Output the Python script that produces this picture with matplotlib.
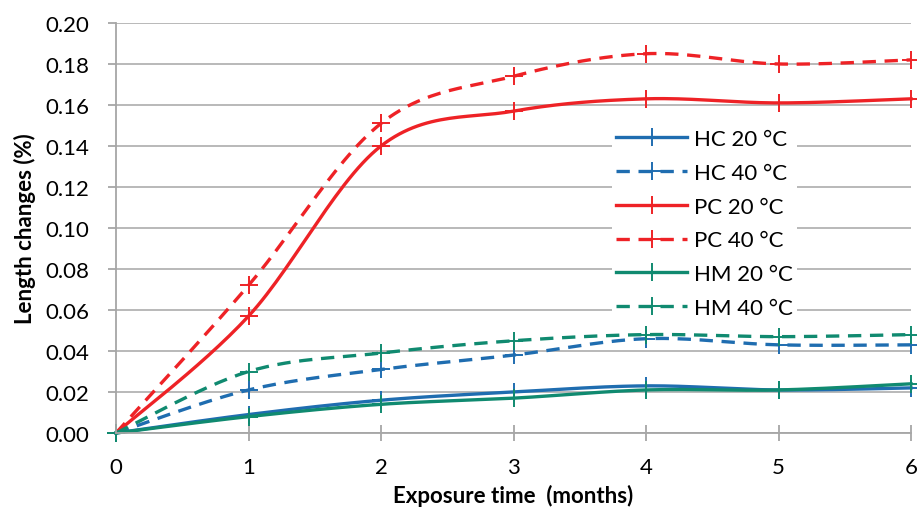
import numpy as np
import matplotlib
matplotlib.use("Agg")
import matplotlib.pyplot as plt

plt.rcParams['font.family'] = ['Lato', 'DejaVu Sans']

months = [0, 1, 2, 3, 4, 5, 6]
hc_20 = [0.000, 0.009, 0.016, 0.020, 0.023, 0.021, 0.022]
hc_40 = [0.000, 0.021, 0.031, 0.038, 0.046, 0.043, 0.043]
pc_20 = [0.000, 0.057, 0.140, 0.157, 0.163, 0.161, 0.163]
pc_40 = [0.000, 0.072, 0.151, 0.174, 0.185, 0.180, 0.182]
hm_20 = [0.000, 0.008, 0.014, 0.017, 0.021, 0.021, 0.024]
hm_40 = [0.000, 0.030, 0.039, 0.045, 0.048, 0.047, 0.048]

BLUE = '#1f6db0'
RED = '#ee2226'
GREEN = '#108a70'


def smooth(x, y, n=30):
    # excel-like smoothed line (catmull-rom through the points)
    x = np.asarray(x, float)
    y = np.asarray(y, float)
    px = np.concatenate([[x[0]], x, [x[-1]]])
    py = np.concatenate([[y[0]], y, [y[-1]]])
    xs, ys = [], []
    t = np.linspace(0, 1, n)
    for i in range(1, len(px) - 2):
        p0, p1, p2, p3 = [np.array([px[j], py[j]]) for j in range(i - 1, i + 3)]
        c1 = p1 + (p2 - p0) / 6.0
        c2 = p2 - (p3 - p1) / 6.0
        pts = ((1 - t) ** 3)[:, None] * p1 + (3 * (1 - t) ** 2 * t)[:, None] * c1 \
            + (3 * (1 - t) * t ** 2)[:, None] * c2 + (t ** 3)[:, None] * p2
        xs.extend(pts[:, 0])
        ys.extend(pts[:, 1])
    return xs, ys


fig = plt.figure(figsize=(9.17, 5.10), dpi=100)
ax = fig.add_axes([0.1265, 0.149, 0.867, 0.804])

series = [
    ('HC 20 °C', hc_20, BLUE, '-'),
    ('HC 40 °C', hc_40, BLUE, '--'),
    ('PC 20 °C', pc_20, RED, '-'),
    ('PC 40 °C', pc_40, RED, '--'),
    ('HM 20 °C', hm_20, GREEN, '-'),
    ('HM 40 °C', hm_40, GREEN, '--'),
]

for label, vals, col, ls in series:
    sx, sy = smooth(months, vals)
    line, = ax.plot(sx, sy, color=col, lw=2.4, ls=ls, clip_on=False)
    if ls == '--':
        line.set_dashes((4, 2.6))
    ax.plot(months, vals, ls='none', marker='+', ms=13, mew=1.4, color=col, clip_on=False)
    # legend proxy
    ax.plot([], [], color=col, lw=2.4, ls=ls, marker='+', ms=13, mew=1.4,
            label=label, **({'dashes': (4, 2.6)} if ls == '--' else {}))

ax.set_xlim(0, 6)
ax.set_ylim(0, 0.20)
ax.set_xticks(months)
ax.set_yticks(np.arange(0, 0.201, 0.02))
ax.set_yticklabels(['%.2f' % v for v in np.arange(0, 0.201, 0.02)])
ax.yaxis.grid(True, color='#b3b3b3', lw=1.3)
ax.set_axisbelow(True)

for s in ['top', 'right']:
    ax.spines[s].set_visible(False)
for s in ['left', 'bottom']:
    ax.spines[s].set_color('#a6a6a6')
    ax.spines[s].set_linewidth(1.3)

ax.tick_params(axis='y', length=6, width=1.3, color='#a6a6a6', labelsize=16, pad=13)
ax.tick_params(axis='x', direction='inout', length=12, width=1.3, color='#a6a6a6',
               labelsize=16, pad=11)

ax.set_xlabel('Exposure time  (months)', fontsize=16, fontweight='bold', labelpad=5)
ax.set_ylabel('Length changes (%)', fontsize=16, fontweight='bold')
ax.yaxis.set_label_coords(-0.1, 0.5)

handles, labels = ax.get_legend_handles_labels()
leg = ax.legend(handles, labels, loc='center left', bbox_to_anchor=(0.655, 0.56),
                bbox_transform=fig.transFigure, frameon=True, fontsize=16,
                handlelength=3.2, handletextpad=0.3, labelspacing=0.62,
                borderpad=0.2, fancybox=False)
leg.get_frame().set_edgecolor('none')
leg.get_frame().set_facecolor('white')
leg.get_frame().set_alpha(1)

fig.savefig('out.png', dpi=100)
